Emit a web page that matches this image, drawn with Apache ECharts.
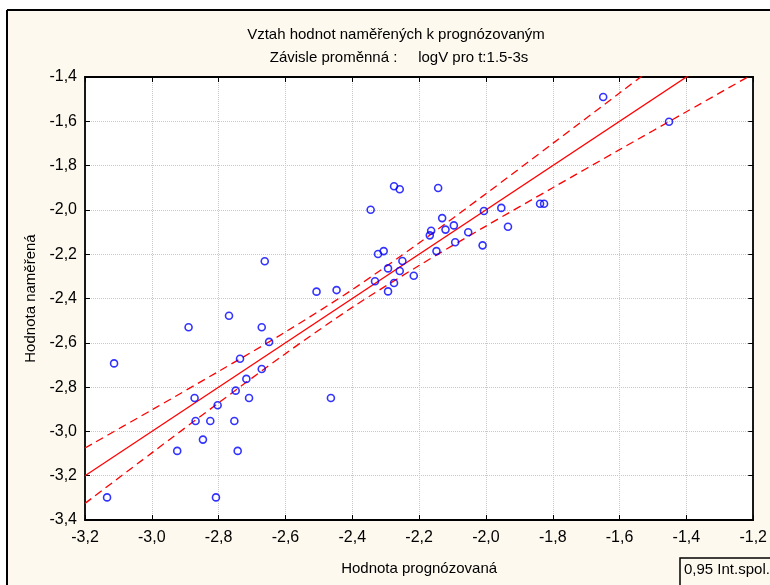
<!DOCTYPE html>
<html>
<head>
<meta charset="utf-8">
<script src="https://cdn.jsdelivr.net/npm/echarts@6/dist/echarts.min.js"></script>
<style>
html,body{margin:0;padding:0;background:#fff;}
#c{width:770px;height:585px;}
</style>
</head>
<body>
<div id="c"></div>
<script>
// Observed points: [predicted, measured]
var predicted = [-1.649,-1.452,-2.275,-2.258,-2.143,-2.345,-2.131,-2.096,-2.121,-2.164,-2.168,-2.053,-2.092,-2.006,-1.954,-1.934,-2.010,-2.148,-1.838,-1.826,-2.323,-2.306,-2.250,-2.293,-2.258,-2.216,-2.332,-2.275,-2.293,-2.507,-2.447,-2.662,-2.890,-2.769,-2.671,-2.649,-2.736,-3.113,-2.671,-2.717,-2.749,-2.872,-2.709,-2.464,-2.803,-2.869,-2.825,-2.753,-2.847,-2.924,-2.743,-3.134,-2.808];
var measured  = [-1.490,-1.602,-1.893,-1.907,-1.901,-1.999,-2.037,-2.070,-2.089,-2.094,-2.115,-2.101,-2.146,-2.005,-1.991,-2.076,-2.160,-2.186,-1.972,-1.972,-2.199,-2.186,-2.231,-2.264,-2.276,-2.297,-2.322,-2.330,-2.368,-2.369,-2.362,-2.232,-2.530,-2.478,-2.530,-2.596,-2.672,-2.693,-2.718,-2.763,-2.816,-2.849,-2.849,-2.849,-2.882,-2.953,-2.953,-2.953,-3.037,-3.088,-3.088,-3.298,-3.298];
// Regression line
var regX = [-3.2, -1.2];
var regY = [-3.2, -1.2];
// 0.95 confidence band
var bandX     = [-3.2, -3.0, -2.8, -2.6, -2.4, -2.2, -2.0, -1.8, -1.6, -1.4, -1.2];
var bandUpper = [-3.075, -2.903, -2.729, -2.551, -2.360, -2.149, -1.927, -1.700, -1.472, -1.243, -1.014];
var bandLower = [-3.325, -3.097, -2.871, -2.649, -2.440, -2.251, -2.073, -1.900, -1.728, -1.557, -1.386];
// Axis ticks
var xTicks = [-3.2, -3.0, -2.8, -2.6, -2.4, -2.2, -2.0, -1.8, -1.6, -1.4, -1.2];
var yTicks = [-3.4, -3.2, -3.0, -2.8, -2.6, -2.4, -2.2, -2.0, -1.8, -1.6, -1.4];

var titleText = 'Vztah hodnot naměřených k prognózovaným';
var subText = 'Závisle proměnná :     logV pro t:1.5-3s';
var xName = 'Hodnota prognózovaná';
var yName = 'Hodnota naměřená';
var legendText = '0,95 Int.spol.';

function zip(a, b) { return a.map(function (v, i) { return [v, b[i]]; }); }
function fmt(v) { return v.toFixed(1).replace('.', ','); }

var FONT = 'Liberation Sans, Arial, sans-serif';
var chart = echarts.init(document.getElementById('c'), null, {renderer: 'canvas'});

function axisBase(ticks, pos, showLabel) {
  return {
    type: 'value',
    position: pos,
    min: ticks[0],
    max: ticks[ticks.length - 1],
    interval: 0.2,
    axisLine: {show: true, onZero: false, lineStyle: {color: '#000', width: 1.8}},
    axisTick: {show: true, inside: true, length: 5, lineStyle: {color: '#000', width: 1}},
    axisLabel: {show: showLabel, formatter: fmt, color: '#000', fontSize: 16, fontFamily: FONT},
    splitLine: {show: showLabel, lineStyle: {color: '#c8c8c8', type: 'dotted', width: 1}}
  };
}

var xMain = axisBase(xTicks, 'bottom', true);
xMain.name = xName;
xMain.nameLocation = 'middle';
xMain.nameGap = 41;
xMain.nameTextStyle = {color: '#000', fontSize: 15, fontFamily: FONT};
xMain.axisLabel.margin = 10;
var xTop = axisBase(xTicks, 'top', false);

var yMain = axisBase(yTicks, 'left', true);
yMain.name = yName;
yMain.nameLocation = 'middle';
yMain.nameGap = 45;
yMain.nameTextStyle = {color: '#000', fontSize: 15, fontFamily: FONT};
yMain.axisLabel.margin = 8;
var yRight = axisBase(yTicks, 'right', false);

chart.setOption({
  backgroundColor: '#fdf9ee',
  animation: false,
  title: [
    {text: titleText, left: 391, top: 22, textAlign: 'center',
     textStyle: {color: '#000', fontSize: 15, fontWeight: 'normal', fontFamily: FONT}},
    {text: subText, left: 394, top: 45, textAlign: 'center',
     textStyle: {color: '#000', fontSize: 15, fontWeight: 'normal', fontFamily: FONT}}
  ],
  grid: {left: 85, right: 11, top: 77, bottom: 65, show: true, backgroundColor: '#fff', borderWidth: 0},
  xAxis: [xMain, xTop],
  yAxis: [yMain, yRight],
  graphic: [
    {type: 'rect', shape: {x: 0, y: 0, width: 770, height: 9}, style: {fill: '#fff'}, silent: true},
    {type: 'rect', shape: {x: 0, y: 0, width: 6, height: 585}, style: {fill: '#fff'}, silent: true},
    {type: 'line', shape: {x1: 7, y1: 10, x2: 770, y2: 10}, style: {stroke: '#000', lineWidth: 2}, silent: true},
    {type: 'line', shape: {x1: 7, y1: 10, x2: 7, y2: 585}, style: {stroke: '#000', lineWidth: 2}, silent: true},
    {type: 'rect', shape: {x: 680, y: 558, width: 120, height: 40},
     style: {fill: '#fdf9ee', stroke: '#000', lineWidth: 1.5}, silent: true},
    {type: 'text', x: 684, y: 562,
     style: {text: legendText, fill: '#000', font: '15px ' + FONT}, silent: true}
  ],
  series: [
    {type: 'line', data: zip(regX, regY), symbol: 'none', showSymbol: false,
     lineStyle: {color: '#ff0000', width: 1.3}, z: 3, clip: true},
    {type: 'line', data: zip(bandX, bandUpper), symbol: 'none', showSymbol: false, smooth: 0.3,
     lineStyle: {color: '#ff0000', width: 1.3, type: [8, 5]}, z: 3, clip: true},
    {type: 'line', data: zip(bandX, bandLower), symbol: 'none', showSymbol: false, smooth: 0.3,
     lineStyle: {color: '#ff0000', width: 1.3, type: [8, 5]}, z: 3, clip: true},
    {type: 'scatter', data: zip(predicted, measured), symbol: 'circle', symbolSize: 7,
     itemStyle: {color: 'rgba(0,0,0,0)', borderColor: '#0000ff', borderWidth: 1.6}, z: 4}
  ]
});
</script>
</body>
</html>
